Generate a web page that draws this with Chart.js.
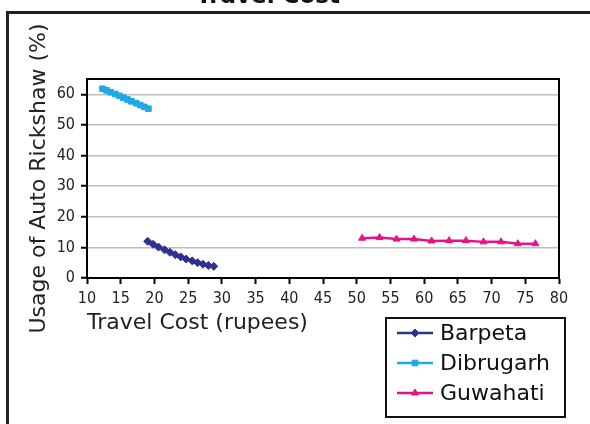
<!DOCTYPE html>
<html lang="en">
<head>
    <meta charset="UTF-8">
    <title>Travel Cost</title>
    <script src="https://cdn.jsdelivr.net/npm/chart.js"></script>
</head>
<style>
body{
    margin: 0;
    background: #fff;
}
#wrap{
    width: 590px;
    height: 424px;
    position: relative;
}
</style>
<body>
    <div id="wrap">
        <canvas id="costChart" width="590" height="424"></canvas>
    </div>
</body>
<script>
    var chartTitle = 'Travel Cost';
    var xTitle = 'Travel Cost (rupees)';
    var yTitle = 'Usage of Auto Rickshaw (%)';
    var seriesNames = ['Barpeta', 'Dibrugarh', 'Guwahati'];

    var barpetaX = [19.0, 19.8, 20.6, 21.5, 22.3, 23.1, 23.9, 24.7, 25.6, 26.4, 27.2, 28.0, 28.8];
    var barpetaY = [12.0, 11.0, 10.1, 9.2, 8.4, 7.6, 6.9, 6.2, 5.6, 5.0, 4.5, 4.1, 3.8];

    var dibrugarhX = [12.3, 12.9, 13.5, 14.2, 14.8, 15.4, 16.0, 16.6, 17.3, 17.9, 18.5, 19.1];
    var dibrugarhY = [61.8, 61.3, 60.7, 60.1, 59.5, 58.9, 58.3, 57.7, 57.1, 56.5, 55.9, 55.3];

    var guwahatiX = [50.8, 53.4, 55.9, 58.5, 61.1, 63.7, 66.2, 68.8, 71.4, 73.9, 76.5];
    var guwahatiY = [13.0, 13.2, 12.7, 12.7, 12.1, 12.2, 12.2, 11.8, 11.8, 11.2, 11.2];

    var xTicks = [10, 15, 20, 25, 30, 35, 40, 45, 50, 55, 60, 65, 70, 75, 80];
    var yTicks = [0, 10, 20, 30, 40, 50, 60];

    var lineColors = ['#2e3192', '#1fa9e6', '#e5128a'];
    var markers = ['rectRot', 'rect', 'triangle'];

    function toPoints(xs, ys) {
        return xs.map(function (x, i) { return { x: x, y: ys[i] }; });
    }

    var textFont = "'DejaVu Sans', Verdana, sans-serif";
    var tickFont = "'DejaVu Sans Condensed', 'DejaVu Sans', sans-serif";

    var decor = {
        id: 'decor',
        beforeDraw: function (chart) {
            var ctx = chart.ctx;
            ctx.save();
            ctx.fillStyle = '#fff';
            ctx.fillRect(0, 0, chart.width, chart.height);
            // outer frame
            ctx.strokeStyle = '#222';
            ctx.lineWidth = 3;
            ctx.strokeRect(7.5, 12.5, 620, 500);
            // chart title, cut off at the top
            ctx.fillStyle = '#111';
            ctx.font = 'bold 23px ' + textFont;
            ctx.textAlign = 'center';
            ctx.textBaseline = 'alphabetic';
            ctx.fillText(chartTitle, 268, 3);
            ctx.restore();
        },
        afterDraw: function (chart) {
            var ctx = chart.ctx;
            var a = chart.chartArea;
            ctx.save();
            ctx.strokeStyle = '#000';
            ctx.lineWidth = 2;
            ctx.strokeRect(a.left, a.top, a.right - a.left, a.bottom - a.top);

            // legend box
            ctx.strokeStyle = '#111';
            ctx.strokeRect(386, 318, 179, 99);
            ctx.font = '22px ' + textFont;
            ctx.textBaseline = 'middle';
            ctx.textAlign = 'left';
            chart.data.datasets.forEach(function (ds, i) {
                var cy = 333 + i * 30;
                ctx.strokeStyle = ds.borderColor;
                ctx.fillStyle = ds.borderColor;
                ctx.lineWidth = 2.5;
                ctx.beginPath();
                ctx.moveTo(397, cy);
                ctx.lineTo(433, cy);
                ctx.stroke();
                ctx.lineWidth = 1;
                Chart.helpers.drawPoint(ctx, { pointStyle: ds.pointStyle, radius: 4, borderWidth: 1 }, 415, cy);
                ctx.fillStyle = '#111';
                ctx.fillText(ds.label, 440, cy + 1);
            });
            ctx.restore();
        }
    };

    var datasetList = [
        toPoints(barpetaX, barpetaY),
        toPoints(dibrugarhX, dibrugarhY),
        toPoints(guwahatiX, guwahatiY)
    ].map(function (pts, i) {
        return {
            label: seriesNames[i],
            data: pts,
            borderColor: lineColors[i],
            backgroundColor: lineColors[i],
            borderWidth: 2.5,
            pointStyle: markers[i],
            pointRadius: 4,
            pointBorderWidth: 1,
            showLine: true,
            fill: false,
            tension: 0
        };
    });

    var ctx = document.getElementById('costChart').getContext('2d');
    window.myChart = new Chart(ctx, {
        type: 'scatter',
        data: { datasets: datasetList },
        options: {
            responsive: false,
            animation: false,
            layout: {
                padding: { left: 22, top: 79, right: 31, bottom: 84 }
            },
            scales: {
                x: {
                    type: 'linear',
                    min: 10,
                    max: 80,
                    afterBuildTicks: function (s) {
                        s.ticks = xTicks.map(function (v) { return { value: v }; });
                    },
                    afterFit: function (s) { s.height = 62; },
                    ticks: {
                        color: '#222',
                        padding: 5,
                        font: { family: tickFont, size: 16 }
                    },
                    grid: {
                        drawOnChartArea: false,
                        tickLength: 6,
                        tickColor: '#000',
                        tickWidth: 2
                    },
                    border: { color: '#000', width: 2 },
                    title: {
                        display: true,
                        text: xTitle,
                        align: 'start',
                        color: '#222',
                        font: { family: textFont, size: 22 },
                        padding: { top: 0, bottom: 4 }
                    }
                },
                y: {
                    type: 'linear',
                    min: 0,
                    max: 65,
                    afterBuildTicks: function (s) {
                        s.ticks = yTicks.map(function (v) { return { value: v }; });
                    },
                    afterFit: function (s) { s.width = 65; },
                    ticks: {
                        color: '#222',
                        padding: 6,
                        font: { family: tickFont, size: 16 }
                    },
                    grid: {
                        color: '#bdbdbd',
                        lineWidth: 1.5,
                        tickLength: 6,
                        tickColor: '#000',
                        tickWidth: 2
                    },
                    border: { color: '#000', width: 2 },
                    title: {
                        display: true,
                        text: yTitle,
                        color: '#222',
                        font: { family: textFont, size: 22 },
                        padding: { top: 4, bottom: 4 }
                    }
                }
            },
            plugins: {
                legend: { display: false },
                tooltip: { enabled: false }
            }
        },
        plugins: [decor]
    });
</script>
</html>
